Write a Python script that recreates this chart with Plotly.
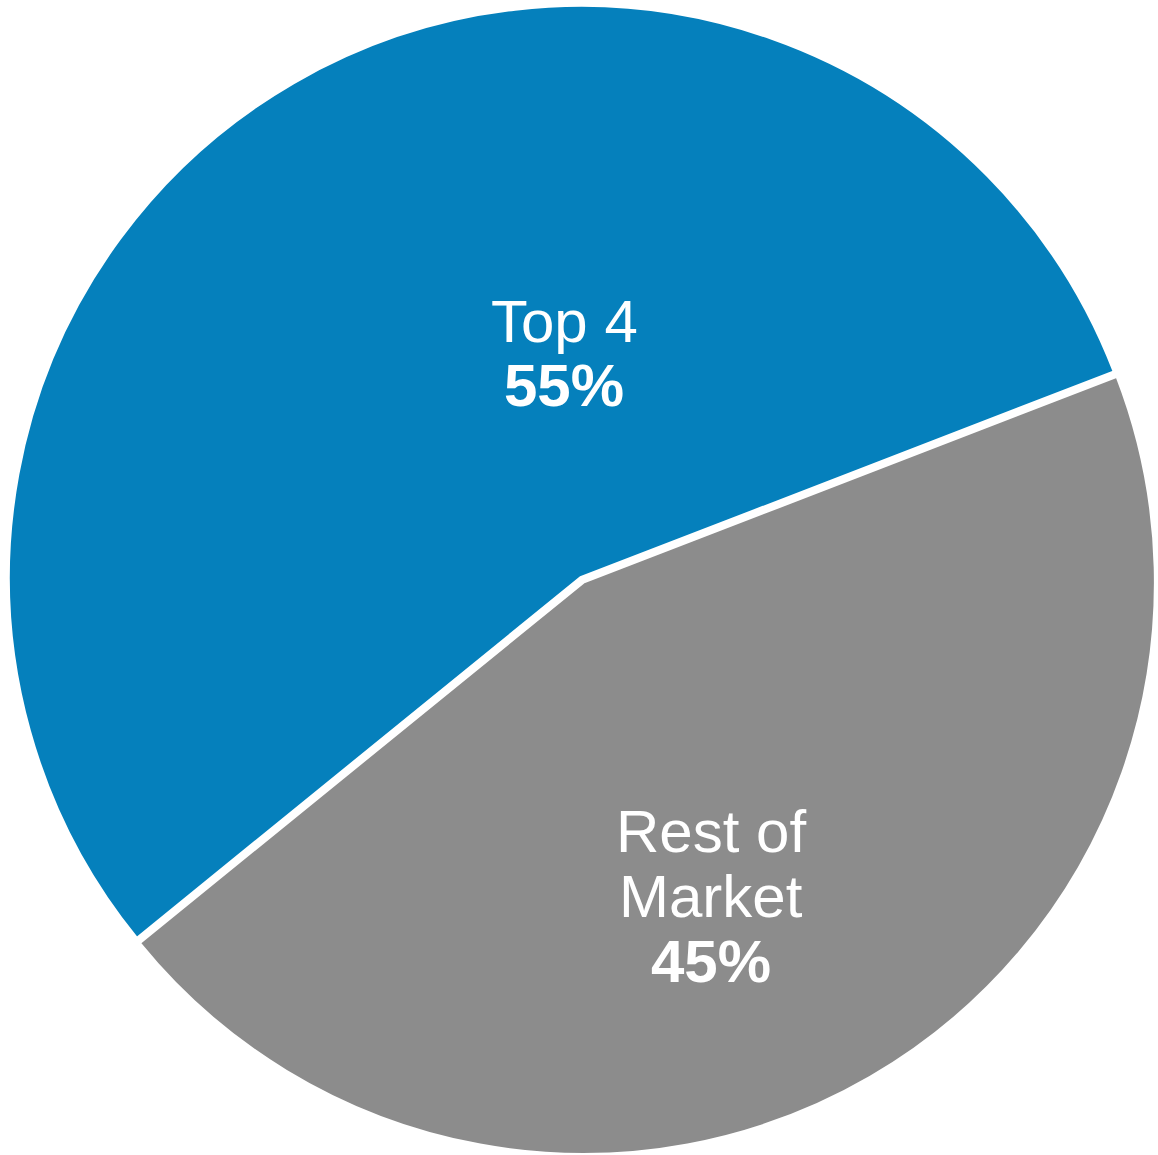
import plotly.graph_objects as go

# Market share split
labels = ["Top 4", "Rest of Market"]
values = [55, 45]
colors = ["#0580BC", "#8C8C8C"]

W, H = 1158, 1155
FONT = "Liberation Sans, Arial, sans-serif"
FONT_SIZE = 60
LINE_STEP = 65  # px between text baselines

# label block anchors (x centre, first baseline) in px
label_anchor = [(564, 342), (711, 852)]
label_lines = [["Top 4"], ["Rest of", "Market"]]

fig = go.Figure(
    go.Pie(
        labels=labels,
        values=values,
        sort=False,
        direction="clockwise",
        rotation=-129.1,
        pull=[0, 0.01],
        marker=dict(colors=colors, line=dict(color="white", width=2.5)),
        textinfo="none",
        hoverinfo="label+percent",
        showlegend=False,
        domain=dict(x=[3 / W, 1], y=[0, 1]),
    )
)

total = sum(values)
annotations = []
for (cx, base), lines, v in zip(label_anchor, label_lines, values):
    pct = round(100 * v / total)
    texts = [(t, False) for t in lines] + [(f"{pct}%", True)]
    for i, (t, bold) in enumerate(texts):
        baseline = base + i * LINE_STEP
        yc = baseline - 0.35 * FONT_SIZE
        annotations.append(
            dict(
                x=cx / W,
                y=1 - yc / H,
                xref="paper",
                yref="paper",
                xanchor="center",
                yanchor="middle",
                text=f"<b>{t}</b>" if bold else t,
                showarrow=False,
                font=dict(family=FONT, size=FONT_SIZE, color="white"),
            )
        )

fig.update_layout(
    width=W,
    height=H,
    margin=dict(l=0, r=0, t=0, b=0, pad=0),
    paper_bgcolor="white",
    plot_bgcolor="white",
    annotations=annotations,
)

fig.write_html("out.html")
